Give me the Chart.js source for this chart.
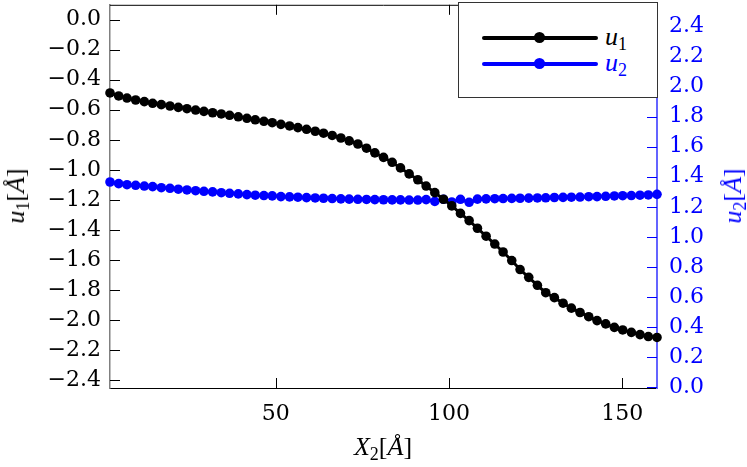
<!DOCTYPE html>
<html>
<head>
<meta charset="utf-8">
<script src="https://cdn.jsdelivr.net/npm/chart.js@4/dist/chart.umd.min.js"></script>
<style>
  body { margin: 0; background: #fff; }
  #wrap { position: relative; width: 747px; height: 467px; font-family: "Liberation Serif", serif; }
  .ttl { position: absolute; font-size: 26px; white-space: nowrap; transform: translate(-50%, -50%); line-height: 1; }
  .ttl sub, #legend sub { font-size: 18px; vertical-align: -5px; line-height: 0; }
  .rot { transform: translate(-50%, -50%) rotate(-90deg); }
  #legend { position: absolute; left: 458px; top: 2px; width: 198px; height: 94px; border: 1px solid #333; background: #fff; }
  .row { position: absolute; left: 0; height: 26px; width: 100%; }
  .ln { position: absolute; left: 23px; width: 116px; height: 4px; top: 11px; border-radius: 2px; }
  .dot { position: absolute; left: 75px; width: 11px; height: 11px; top: 7px; border-radius: 50%; }
  .lab { position: absolute; left: 146px; top: -3px; font-size: 26px; }
</style>
</head>
<body>
<div id="wrap">
  <canvas id="chart" width="747" height="467"></canvas>
  <div class="ttl rot" style="left:16px; top:196px;"><i>u</i><sub>1</sub>[<i>Å</i>]</div>
  <div class="ttl rot" style="left:733px; top:196px; color:#0000ff;"><i>u</i><sub>2</sub>[<i>Å</i>]</div>
  <div class="ttl" style="left:383px; top:447px;"><i>X</i><sub>2</sub>[<i>Å</i>]</div>
  <div id="legend">
    <div class="row" style="top:22px;"><div class="ln" style="background:#000"></div><div class="dot" style="background:#000"></div><div class="lab"><i>u</i><sub>1</sub></div></div>
    <div class="row" style="top:48px;"><div class="ln" style="background:#0000ff"></div><div class="dot" style="background:#0000ff"></div><div class="lab" style="color:#0000ff"><i>u</i><sub>2</sub></div></div>
  </div>
</div>
<script>
// X2 positions [Å]
const xs = [2.2, 4.7, 7.1, 9.6, 12.1, 14.5, 17.0, 19.5, 21.9, 24.4,
  26.9, 29.3, 31.8, 34.3, 36.7, 39.2, 41.7, 44.1, 46.6, 49.0,
  51.5, 54.0, 56.4, 58.9, 61.4, 63.8, 66.3, 68.8, 71.2, 73.7,
  76.2, 78.6, 81.1, 83.6, 86.0, 88.5, 91.0, 93.4, 95.9, 98.4,
  100.8, 103.3, 105.8, 108.2, 110.7, 113.2, 115.6, 118.1, 120.5, 123.0,
  125.5, 127.9, 130.4, 132.9, 135.3, 137.8, 140.3, 142.7, 145.2, 147.7,
  150.1, 152.6, 155.1, 157.5, 160.0];

const u1 = [-0.488, -0.508, -0.522, -0.535, -0.546, -0.557, -0.566, -0.575, -0.584, -0.593,
  -0.602, -0.611, -0.620, -0.628, -0.637, -0.647, -0.657, -0.667, -0.677, -0.686,
  -0.697, -0.708, -0.719, -0.730, -0.743, -0.756, -0.771, -0.788, -0.807, -0.828,
  -0.856, -0.887, -0.917, -0.950, -0.987, -1.027, -1.066, -1.108, -1.152, -1.196,
  -1.240, -1.290, -1.338, -1.389, -1.442, -1.494, -1.547, -1.604, -1.664, -1.716,
  -1.769, -1.818, -1.851, -1.888, -1.921, -1.950, -1.978, -2.004, -2.026, -2.049,
  -2.066, -2.082, -2.097, -2.110, -2.116];

const u2 = [1.365, 1.354, 1.347, 1.343, 1.338, 1.334, 1.327, 1.323, 1.317, 1.312,
  1.307, 1.303, 1.299, 1.294, 1.290, 1.286, 1.281, 1.277, 1.275, 1.273,
  1.268, 1.266, 1.264, 1.261, 1.259, 1.257, 1.255, 1.253, 1.251, 1.250,
  1.249, 1.248, 1.247, 1.246, 1.246, 1.245, 1.245, 1.248, 1.236, 1.250,
  1.232, 1.250, 1.230, 1.251, 1.253, 1.254, 1.255, 1.256, 1.257, 1.258,
  1.259, 1.260, 1.262, 1.263, 1.264, 1.265, 1.267, 1.268, 1.270, 1.272,
  1.274, 1.275, 1.277, 1.279, 1.283];

const xTicks = [50, 100, 150];
const u1Ticks = [0, -0.2, -0.4, -0.6, -0.8, -1.0, -1.2, -1.4, -1.6, -1.8, -2.0, -2.2, -2.4];
const u2Ticks = [0, 0.2, 0.4, 0.6, 0.8, 1.0, 1.2, 1.4, 1.6, 1.8, 2.0, 2.2, 2.4];

const BLUE = '#0000ff';
Chart.defaults.font.family = 'DejaVu Serif';
const font = { family: 'DejaVu Serif', size: 22 };

function fmt(v) {
  const s = Math.abs(v).toFixed(1);
  return v < -1e-9 ? '\u2212' + s : s;
}
function setTicks(list) {
  return scale => { scale.ticks = list.map(v => ({ value: v })); };
}
// fixed axis band, no extra room for label overhang
function fitBox(size) {
  return s => {
    if (s.isHorizontal()) s.height = size; else s.width = size;
    s.paddingTop = 0; s.paddingBottom = 0; s.paddingLeft = 0; s.paddingRight = 0;
  };
}

// ticks pointing into the plot, plus the top frame line
const innerTicks = {
  id: 'innerTicks',
  beforeDatasetsDraw(chart) {
    const { ctx, chartArea: a, scales } = chart;
    const len = 10;
    ctx.save();
    ctx.lineWidth = 1;
    function seg(x1, y1, x2, y2) { ctx.beginPath(); ctx.moveTo(x1, y1); ctx.lineTo(x2, y2); ctx.stroke(); }
    ctx.strokeStyle = '#000';
    seg(a.left, a.top + 0.5, a.right, a.top + 0.5);
    scales.y.ticks.forEach(t => {
      const p = Math.round(scales.y.getPixelForValue(t.value)) + 0.5;
      seg(a.left, p, a.left + len, p);
    });
    scales.x.ticks.forEach(t => {
      const p = Math.round(scales.x.getPixelForValue(t.value)) + 0.5;
      seg(p, a.bottom, p, a.bottom - len);
      seg(p, a.top, p, a.top + len);
    });
    ctx.strokeStyle = BLUE;
    scales.y2.ticks.forEach(t => {
      const p = Math.round(scales.y2.getPixelForValue(t.value)) + 0.5;
      seg(a.right - len, p, a.right, p);
    });
    ctx.restore();
  }
};

const noGrid = { display: false, drawTicks: false };

new Chart(document.getElementById('chart'), {
  type: 'line',
  data: {
    datasets: [
      {
        label: 'u1',
        data: xs.map((x, i) => ({ x: x, y: u1[i] })),
        yAxisID: 'y',
        borderColor: '#000',
        backgroundColor: '#000',
        borderWidth: 3,
        pointRadius: 4.8,
        pointBorderWidth: 0,
        clip: false
      },
      {
        label: 'u2',
        data: xs.map((x, i) => ({ x: x, y: u2[i] })),
        yAxisID: 'y2',
        borderColor: BLUE,
        backgroundColor: BLUE,
        borderWidth: 3,
        pointRadius: 4.8,
        pointBorderWidth: 0,
        clip: false
      }
    ]
  },
  options: {
    responsive: false,
    animation: false,
    layout: { padding: { top: 1, left: 0, right: 0, bottom: 0 } },
    plugins: { legend: { display: false }, tooltip: { enabled: false } },
    scales: {
      x: {
        type: 'linear',
        min: xs[0],
        max: xs[xs.length - 1],
        afterBuildTicks: setTicks(xTicks),
        afterFit: fitBox(79),
        grid: noGrid,
        border: { color: '#000', width: 1 },
        ticks: { font: font, color: '#000', padding: 13, maxRotation: 0, autoSkip: false }
      },
      y: {
        position: 'left',
        min: -2.4527,
        max: 0.0989,
        afterBuildTicks: setTicks(u1Ticks),
        afterFit: fitBox(110),
        grid: noGrid,
        border: { color: '#808080', width: 1.5 },
        ticks: { font: font, color: '#000', padding: 9, autoSkip: false, callback: v => fmt(v) }
      },
      y2: {
        position: 'right',
        min: -0.0066,
        max: 2.545,
        afterBuildTicks: setTicks(u2Ticks),
        afterFit: fitBox(90),
        grid: noGrid,
        border: { color: '#6464ff', width: 2 },
        ticks: { font: font, color: BLUE, padding: 12, autoSkip: false, callback: v => fmt(v) }
      }
    }
  },
  plugins: [innerTicks]
});
</script>
</body>
</html>
